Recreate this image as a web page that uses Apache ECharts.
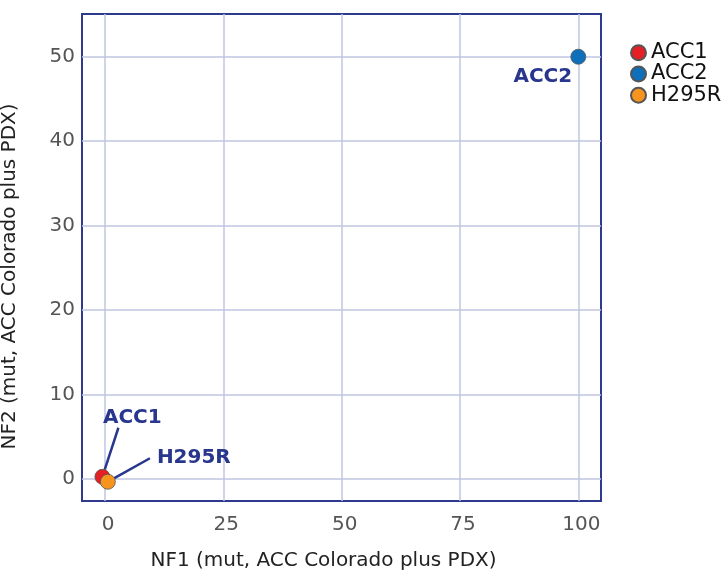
<!DOCTYPE html>
<html>
<head>
<meta charset="utf-8">
<script src="https://cdn.jsdelivr.net/npm/echarts@6/dist/echarts.min.js"></script>
<style>html,body{margin:0;padding:0;background:#fff}#c{width:727px;height:573px}</style>
</head>
<body>
<div id="c"></div>
<script>
// Data
const seriesNames = ['ACC1', 'ACC2', 'H295R'];
const nf1Values = [-0.55, 100, 0.6];
const nf2Values = [0.27, 50, -0.32];
const seriesColors = ['#e41f26', '#0e6fbb', '#f7941d'];
const xTicks = [0, 25, 50, 75, 100];
const yTicks = [0, 10, 20, 30, 40, 50];
const xTitle = 'NF1 (mut, ACC Colorado plus PDX)';
const yTitle = 'NF2 (mut, ACC Colorado plus PDX)';

const FONT = 'DejaVu Sans';
const labelColor = '#28368d';
const labelSpecs = {
  'ACC1': { layout: { dx: 16, dy: -59 }, line: true, prefix: '    ' },
  'ACC2': { layout: { dx: -35.5, dy: 20.5 }, line: false, prefix: '' },
  'H295R': { layout: { dx: 82.5, dy: -23.5 }, line: true, prefix: ' ' }
};

const chart = echarts.init(document.getElementById('c'), null, { renderer: 'canvas' });

const series = seriesNames.map((name, i) => ({
  name: name,
  type: 'scatter',
  data: [[nf1Values[i], nf2Values[i]]],
  symbol: 'circle',
  symbolSize: 15,
  itemStyle: { color: seriesColors[i], borderColor: '#555', borderWidth: 0.8, opacity: 1 },
  label: {
    show: true,
    position: 'inside',
    formatter: labelSpecs[name].prefix + name,
    fontFamily: FONT,
    fontWeight: 'bold',
    fontSize: 20,
    color: labelColor
  },
  labelLayout: labelSpecs[name].layout,
  labelLine: {
    show: labelSpecs[name].line,
    lineStyle: { color: labelColor, width: 2.5 }
  },
  emphasis: { disabled: true },
  z: 3 + i
}));

chart.setOption({
  animation: false,
  backgroundColor: '#fff',
  grid: {
    left: 82, top: 14, width: 519, height: 487,
    outerBoundsMode: 'none',
    containLabel: false,
    show: true, borderColor: '#2d3a8e', borderWidth: 2, backgroundColor: 'transparent'
  },
  legend: {
    orient: 'vertical',
    left: 630, top: 42,
    padding: 0,
    icon: 'circle',
    itemWidth: 15, itemHeight: 15,
    itemGap: 0,
    data: seriesNames,
    textStyle: { fontFamily: FONT, fontSize: 21, color: '#111', lineHeight: 21.3 }
  },
  xAxis: {
    type: 'value',
    min: -4.86, max: 104.8,
    name: xTitle,
    nameLocation: 'middle',
    nameGap: 50,
    nameTextStyle: { fontFamily: FONT, fontSize: 20, color: '#222', padding: [0, 36, 0, 0] },
    axisLine: { show: false },
    axisTick: { show: false, customValues: xTicks },
    axisLabel: { customValues: xTicks, margin: 14, fontFamily: FONT, fontSize: 20, color: '#555', padding: [0, 0, 0, 6] },
    splitLine: { show: true, lineStyle: { color: '#c1c6e0', width: 1.5 } }
  },
  yAxis: {
    type: 'value',
    min: -2.6, max: 55.06,
    name: yTitle,
    nameLocation: 'middle',
    nameGap: 62,
    nameTextStyle: { fontFamily: FONT, fontSize: 20, color: '#222', padding: [0, 38, 0, 0] },
    axisLine: { show: false },
    axisTick: { show: false, customValues: yTicks },
    axisLabel: { customValues: yTicks, margin: 7, fontFamily: FONT, fontSize: 20, color: '#555' },
    splitLine: { show: true, lineStyle: { color: '#c1c6e0', width: 1.5 } }
  },
  series: series
});
</script>
</body>
</html>
